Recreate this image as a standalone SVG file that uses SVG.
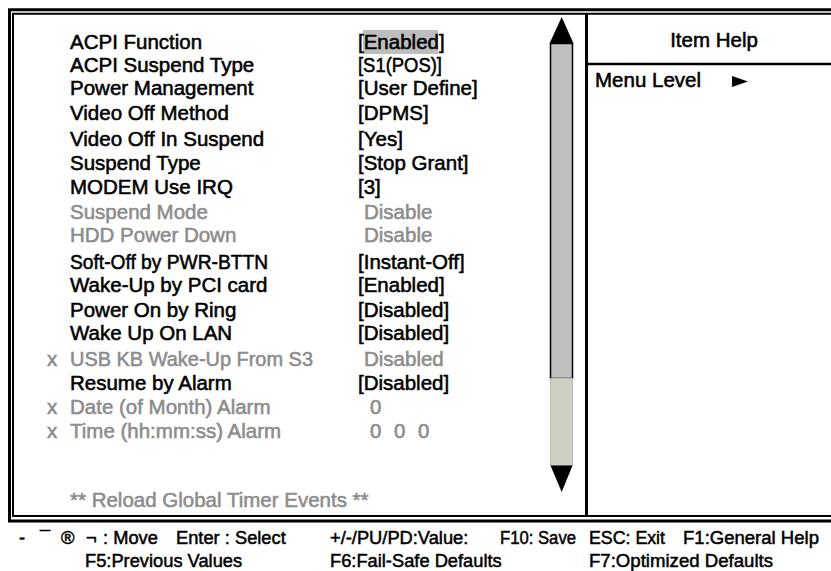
<svg xmlns="http://www.w3.org/2000/svg" width="831" height="571" viewBox="0 0 831 571">
<style>
text{font-family:"Liberation Sans",Arial,sans-serif;font-weight:normal;font-size:20.5px;fill:#000;stroke:#000;stroke-width:0.55px}
.g{fill:#8c8c8c;stroke:#8c8c8c}
.f{font-size:18.3px;stroke-width:0.5px}
.line{stroke:#000;fill:none}
</style>
<rect width="831" height="571" fill="#fff"/>
<g id="frame">
<rect class="line" x="9.5" y="9.75" width="840" height="511.25" stroke-width="3"/>
<rect class="line" x="13" y="13.75" width="840" height="502.25" stroke-width="2"/>
<line class="line" x1="586.5" y1="14" x2="586.5" y2="516" stroke-width="3"/>
<line class="line" x1="587" y1="64" x2="831" y2="64" stroke-width="2.5"/>
</g>
<g id="scrollbar">
<rect x="550.5" y="43.5" width="22" height="335" fill="#c0c0c0" stroke="#000" stroke-width="1.5"/>
<rect x="550.5" y="378.5" width="22" height="87" fill="#cfcfc3" stroke="#b8b8b0" stroke-width="1"/>
<polygon points="549.5,43.5 573.5,43.5 561.7,17" fill="#000"/>
<polygon points="550.5,465.5 572.5,465.5 561.7,492" fill="#000"/>
</g>
<g id="help">
<text x="714" y="47" text-anchor="middle">Item Help</text>
<text x="595" y="87">Menu Level</text>
<polygon points="732,76 748,81.5 732,87" fill="#000"/>
</g>
<g id="settings">
<rect x="363" y="30" width="75" height="24" fill="#bdbdbd"/>
<text x="70" y="49">ACPI Function</text><text x="358" y="49">[Enabled]</text>
<text x="70" y="72">ACPI Suspend Type</text><text x="358" y="72" textLength="84" lengthAdjust="spacingAndGlyphs">[S1(POS)]</text>
<text x="70" y="95">Power Management</text><text x="358" y="95">[User Define]</text>
<text x="70" y="120">Video Off Method</text><text x="358" y="120">[DPMS]</text>
<text x="70" y="146">Video Off In Suspend</text><text x="358" y="146">[Yes]</text>
<text x="70" y="170">Suspend Type</text><text x="358" y="170">[Stop Grant]</text>
<text x="70" y="194">MODEM Use IRQ</text><text x="358" y="194">[3]</text>
<text class="g" x="70" y="219">Suspend Mode</text><text class="g" x="364" y="219">Disable</text>
<text class="g" x="70" y="242">HDD Power Down</text><text class="g" x="364" y="242">Disable</text>
<text x="70" y="269" textLength="198" lengthAdjust="spacingAndGlyphs">Soft-Off by PWR-BTTN</text><text x="358" y="269">[Instant-Off]</text>
<text x="70" y="292">Wake-Up by PCI card</text><text x="358" y="292">[Enabled]</text>
<text x="70" y="317">Power On by Ring</text><text x="358" y="317">[Disabled]</text>
<text x="70" y="340">Wake Up On LAN</text><text x="358" y="340">[Disabled]</text>
<text class="g" x="47" y="366">x</text><text class="g" x="70" y="366" textLength="243" lengthAdjust="spacingAndGlyphs">USB KB Wake-Up From S3</text><text class="g" x="364" y="366">Disabled</text>
<text x="70" y="390">Resume by Alarm</text><text x="358" y="390">[Disabled]</text>
<text class="g" x="47" y="414">x</text><text class="g" x="70" y="414">Date (of Month) Alarm</text><text class="g" x="370" y="414">0</text>
<text class="g" x="47" y="438">x</text><text class="g" x="70" y="438">Time (hh:mm:ss) Alarm</text><text class="g" x="370" y="438">0</text><text class="g" x="394" y="438">0</text><text class="g" x="418" y="438">0</text>
<text class="g" x="70" y="507">** Reload Global Timer Events **</text>
</g>
<g id="footer">
<text class="f" x="19" y="544">-</text>
<text class="f" x="40" y="544">¯</text>
<text class="f" x="61" y="544">®</text>
<text class="f" x="86" y="544">¬</text>
<text class="f" x="103" y="544">: Move</text>
<text class="f" x="176" y="544">Enter : Select</text>
<text class="f" x="330" y="544">+/-/PU/PD:Value:</text>
<text class="f" x="500" y="544" textLength="76" lengthAdjust="spacingAndGlyphs">F10: Save</text>
<text class="f" x="589" y="544" textLength="76" lengthAdjust="spacingAndGlyphs">ESC: Exit</text>
<text class="f" x="683" y="544" textLength="136" lengthAdjust="spacingAndGlyphs">F1:General Help</text>
<text class="f" x="85" y="567">F5:Previous Values</text>
<text class="f" x="330" y="567">F6:Fail-Safe Defaults</text>
<text class="f" x="589" y="567" textLength="184" lengthAdjust="spacingAndGlyphs">F7:Optimized Defaults</text>
</g>
</svg>
